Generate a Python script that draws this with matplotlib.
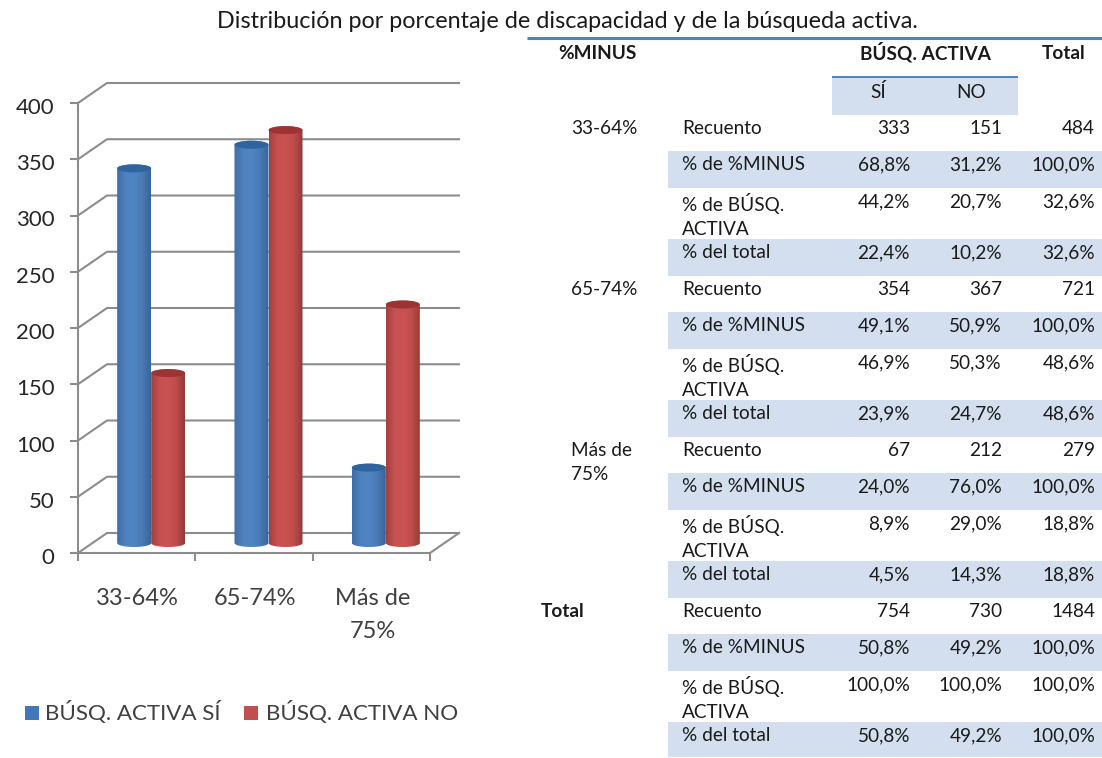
import numpy as np
import matplotlib
matplotlib.use("Agg")
import matplotlib.pyplot as plt
from matplotlib.colors import LinearSegmentedColormap
from matplotlib.patches import PathPatch, Rectangle
from matplotlib.path import Path
from matplotlib.transforms import ScaledTranslation

W, H = 1102, 758

title = "Distribución por porcentaje de discapacidad y de la búsqueda activa."

categories = ["33-64%", "65-74%", "Más de\n75%"]
series_names = ["BÚSQ. ACTIVA SÍ", "BÚSQ. ACTIVA NO"]
busq_si = [333, 354, 67]
busq_no = [151, 367, 212]
y_ticks = [0, 50, 100, 150, 200, 250, 300, 350, 400]

row_labels = ["Recuento", "% de %MINUS", "% de BÚSQ.\nACTIVA", "% del total"]
group_labels = ["33-64%", "65-74%", "Más de\n75%", "Total"]
col_si = [
    "333", "68,8%", "44,2%", "22,4%",
    "354", "49,1%", "46,9%", "23,9%",
    "67", "24,0%", "8,9%", "4,5%",
    "754", "50,8%", "100,0%", "50,8%",
]
col_no = [
    "151", "31,2%", "20,7%", "10,2%",
    "367", "50,9%", "50,3%", "24,7%",
    "212", "76,0%", "29,0%", "14,3%",
    "730", "49,2%", "100,0%", "49,2%",
]
col_total = [
    "484", "100,0%", "32,6%", "32,6%",
    "721", "100,0%", "48,6%", "48,6%",
    "279", "100,0%", "18,8%", "18,8%",
    "1484", "100,0%", "100,0%", "100,0%",
]

plt.rcParams["font.family"] = ["Lato", "DejaVu Sans"]

GRID = "#8c8c8c"
BAND = "#d3dfee"
RULE = "#4f81bd"
TXT = "#1a1a1a"
FS = 13.7

fig = plt.figure(figsize=(W / 100, H / 100), dpi=100)

# table + title live in a pixel-sized axes covering the whole figure
tab = fig.add_axes([0, 0, 1, 1])
tab.set_xlim(0, W)
tab.set_ylim(H, 0)
tab.axis("off")

tab.text(567, 22, title, fontsize=16.8, ha="center", va="center", color=TXT)
tab.plot([527, W], [38, 38], color=RULE, lw=2.2, solid_capstyle="butt")

tab.text(597, 59, "%MINUS", fontsize=FS, fontweight="bold", ha="center", va="baseline", color=TXT)
tab.text(925, 59, "BÚSQ. ACTIVA", fontsize=FS, fontweight="bold", ha="center", va="baseline", color=TXT)
tab.text(1064, 59, "Total", fontsize=FS, fontweight="bold", ha="center", va="baseline", color=TXT)

tab.add_patch(Rectangle((832, 77), 186, 38, fc=BAND, ec="none"))
tab.plot([832, 1018], [77, 77], color=RULE, lw=1.4, solid_capstyle="butt")
tab.text(878, 98, "SÍ", fontsize=FS, ha="center", va="baseline", color=TXT)
tab.text(971, 98, "NO", fontsize=FS, ha="center", va="baseline", color=TXT)

row_heights = [36, 37, 51, 37]
y = 115
k = 0
for g, group in enumerate(group_labels):
    gx = 541 if group == "Total" else 571
    tab.text(gx, y + 5, group, fontsize=FS, va="top", color=TXT, linespacing=1.5,
             fontweight="bold" if group == "Total" else "normal")
    for r, label in enumerate(row_labels):
        if r % 2 == 1:
            h = row_heights[r]
            if r == 3 and g == 3:
                h = 35
            tab.add_patch(Rectangle((668, y), W - 668, h, fc=BAND, ec="none"))
        tab.text(682, y + 5, label, fontsize=FS, va="top", color=TXT, linespacing=1.5)
        for right, col in zip([910, 1002, 1095], [col_si, col_no, col_total]):
            tab.text(right, y + 19, col[k], fontsize=FS, ha="right", va="baseline", color=TXT)
        y += row_heights[r]
        k += 1

# chart, y scale is the front plane of the 3d box
ax = fig.add_axes([78 / W, 1 - 553 / H, 352 / W, 450 / H])
ax.patch.set_alpha(0)
ax.set_xlim(0, 3)
ax.set_ylim(0, 400)
depth_x = 29 / (352 / 3)
depth_y = 20 / (450 / 400)

for spine in ["top", "right"]:
    ax.spines[spine].set_visible(False)
for spine in ["left", "bottom"]:
    ax.spines[spine].set_color(GRID)
    ax.spines[spine].set_linewidth(1.5)

ax.set_yticks(y_ticks)
ax.set_xticks([0, 1, 2, 3])
ax.set_xticklabels([])
ax.tick_params(axis="y", length=6, width=1.5, color=GRID, labelsize=16, labelcolor="#262626", pad=11)
ax.tick_params(axis="x", length=6, width=1.5, color=GRID)

# the value labels sit a little below their tick marks
shift = ScaledTranslation(0, -3 / 100, fig.dpi_scale_trans)
for label in ax.get_yticklabels():
    label.set_transform(label.get_transform() + shift)

for v in y_ticks:
    ax.plot([0, depth_x, 3 + depth_x], [v, v + depth_y, v + depth_y], color=GRID, lw=1.5,
            clip_on=False, zorder=1)
ax.plot([3, 3 + depth_x], [0, depth_y], color=GRID, lw=1.5, clip_on=False, zorder=1)

for i, cat in enumerate(categories):
    ax.text(i + 0.5 + 0.01, -31, cat, fontsize=17, ha="center", va="top", color="#404040",
            linespacing=1.7, clip_on=False)

bar_w = 34 / (352 / 3)
ell_h = 4 / (450 / 400)
base = depth_y / 2
t = np.linspace(0, np.pi, 30)

cmaps = [
    LinearSegmentedColormap.from_list("b", ["#3f6ea8", "#4f81bd", "#5085c4", "#4a7ab5", "#38659a"]),
    LinearSegmentedColormap.from_list("r", ["#a3403f", "#c75150", "#cb5252", "#bd4c4a", "#933a38"]),
]
top_cols = ["#2f649f", "#9b3433"]
gradient = np.linspace(0, 1, 64).reshape(1, -1)

for s, values in enumerate([busq_si, busq_no]):
    for i, v in enumerate(values):
        cx = i + 0.5 + depth_x / 2 + (s * 2 - 1) * bar_w / 2
        rx = bar_w / 2
        top = base + v
        # outline: front arc at the bottom, up the side, far arc of the top ellipse
        xs = np.r_[cx - rx * np.cos(t), cx + rx * np.cos(t)]
        ys = np.r_[base - ell_h * np.sin(t), top + ell_h * np.sin(t)]
        body = PathPatch(Path(np.c_[xs, ys]), fc="none", ec="none", transform=ax.transData)
        ax.add_patch(body)
        body.set_clip_on(False)
        im = ax.imshow(gradient, extent=[cx - rx, cx + rx, base - ell_h, top + ell_h], aspect="auto",
                       cmap=cmaps[s], zorder=3 + s, interpolation="bilinear", clip_on=True)
        im.set_clip_path(body)
        lid_x = np.r_[cx - rx * np.cos(t), cx + rx * np.cos(t)]
        lid_y = np.r_[top - ell_h * np.sin(t), top + ell_h * np.sin(t)]
        ax.fill(lid_x, lid_y, color=top_cols[s], zorder=3.5 + s, clip_on=False, lw=0)

ax.set_xlim(0, 3)
ax.set_ylim(0, 400)

# legend, placed by hand under the chart
for x0, x1, col, name in [(25, 45, "#4278bb", series_names[0]), (244, 266, "#c0504d", series_names[1])]:
    tab.add_patch(Rectangle((x0, 706), 13.5, 13.5, fc=col, ec="none"))
    tab.text(x1, 712.5, name, fontsize=16.1, va="center", color="#404040")

fig.savefig("out.png", dpi=100)
